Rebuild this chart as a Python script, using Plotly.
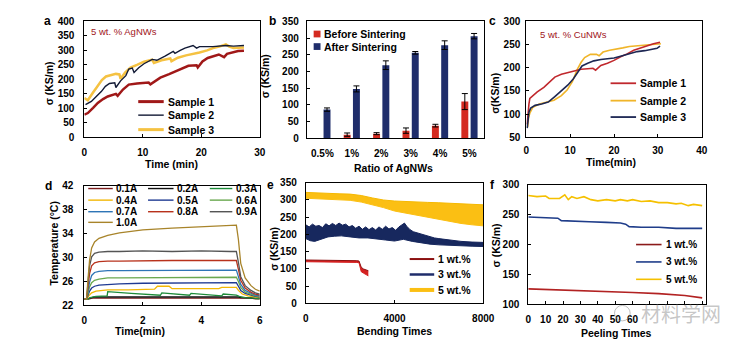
import plotly.graph_objects as go

W, H = 749, 351
FONT = "Liberation Sans, Arial, sans-serif"


def px(x):
    return x / W


def py(y):
    return 1 - y / H


# ---------------- Panel a : 5 wt.% AgNWs, sigma vs time ----------------
a_s1_t = [0, 0.6, 1.5, 2.3, 3.2, 4.0, 5.4, 5.7, 6.6, 7.6, 9.0, 10.2, 11.0, 11.3, 13.0, 14.5, 15.8, 17.8, 19.2, 19.4, 20.2, 21.1, 23.0, 23.9, 24.4, 25.3, 26.3, 27.3]
a_s1_v = [78, 84, 102, 119, 132, 141, 150, 143, 165, 182, 186, 188, 189, 183, 206, 218, 230, 247, 249, 241, 262, 274, 286, 277, 288, 293, 298, 299]
a_s2_t = [0.2, 0.6, 1.2, 2.0, 2.9, 3.6, 4.3, 5.2, 5.4, 6.2, 7.1, 7.6, 8.2, 8.5, 9.3, 10.2, 11.0, 11.6, 12.4, 13.8, 15.2, 15.5, 16.4, 17.2, 18.6, 19.2, 19.7, 21.0, 22.0, 24.2, 25.5, 27.3]
a_s2_v = [113, 117, 124, 140, 158, 176, 186, 188, 172, 195, 213, 236, 239, 224, 240, 254, 262, 269, 266, 280, 297, 290, 300, 308, 317, 308, 313, 312, 313, 317, 315, 317]
a_s3_t = [0, 0.3, 0.6, 1.4, 2.3, 3.0, 3.7, 4.6, 5.4, 6.0, 6.2, 7.0, 7.9, 9.0, 10.2, 11.6, 11.9, 13.2, 14.7, 14.9, 16.0, 17.4, 18.6, 19.7, 21.0, 22.0, 23.2, 24.2, 24.8, 25.5, 27.3]
a_s3_v = [136, 133, 128, 152, 180, 198, 210, 215, 219, 217, 202, 224, 241, 250, 261, 268, 257, 266, 272, 263, 275, 283, 287, 293, 300, 308, 314, 321, 313, 308, 310]

# ---------------- Panel b : bars ----------------
b_cats = ["0.5%", "1%", "2%", "3%", "4%", "5%"]
b_before = [None, 11, 14, 23, 38, 110]
b_before_err = [None, 5, 3, 8, 4, 24]
b_after = [86, 148, 219, 256, 279, 306]
b_after_err = [5, 9, 13, 4, 13, 8]

# ---------------- Panel c : 5 wt.% CuNWs ----------------
c_s1_t = [0.2, 0.4, 0.6, 0.8, 1.5, 2.5, 4.0, 5.5, 6.5, 8.0, 9.5, 10.8, 12.5, 14.0, 15.2, 15.8, 17.0, 18.5, 20.0, 21.5, 23.0, 24.5, 26.0, 27.5, 29.0, 30.5]
c_s1_v = [78, 105, 122, 134, 140, 148, 158, 170, 180, 186, 190, 194, 197, 198, 199, 195, 205, 210, 216, 224, 230, 238, 243, 248, 252, 255]
c_s2_t = [0.3, 0.5, 0.8, 1.5, 3.0, 5.0, 6.3, 8.0, 9.3, 10.5, 11.6, 12.5, 13.3, 14.6, 16.0, 16.6, 17.5, 19.0, 20.5, 22.0, 23.5, 25.0, 27.0, 29.0, 30.7]
c_s2_v = [72, 92, 102, 115, 122, 126, 130, 140, 152, 170, 196, 212, 222, 229, 229, 226, 234, 238, 240, 243, 246, 247, 249, 251, 252]
c_s3_t = [0.2, 0.4, 0.6, 1.0, 2.0, 3.5, 5.0, 6.5, 8.0, 9.5, 10.7, 11.8, 12.7, 14.0, 15.4, 17.0, 18.5, 20.0, 21.5, 23.0, 25.3, 27.0, 28.8, 29.8, 30.5]
c_s3_v = [70, 92, 104, 113, 119, 122, 126, 138, 150, 163, 176, 192, 204, 210, 215, 218, 220, 221, 225, 229, 235, 237, 240, 242, 247]

# ---------------- Panel d : temperature vs time ----------------
d_t = [0, 0.08, 0.12, 0.18, 0.25, 0.35, 0.5, 0.8, 1.2, 2.0, 3.0, 4.0, 5.0, 5.2, 5.27, 5.35, 5.5, 5.7, 5.85, 6.0]
d_labels = ["0.1A", "0.2A", "0.3A", "0.4A", "0.5A", "0.6A", "0.7A", "0.8A", "0.9A", "1.0A"]
d_colors = ["#7b1c1c", "#111111", "#1e8c3a", "#f2b705", "#1f3a93", "#6aa84f", "#2e75b6", "#b8321c", "#555555", "#a8842a"]
d_01 = [23.0, 23.0, 23.1, 23.1, 23.2, 23.2, 23.2, 23.3, 23.2, 23.3, 23.2, 23.3, 23.2, 23.2, 23.2, 23.2, 23.2, 23.2, 23.1, 23.1]
d_02 = [23.0, 23.0, 23.1, 23.2, 23.3, 23.4, 23.4, 23.4, 23.4, 23.5, 23.4, 23.5, 23.4, 23.4, 23.4, 23.3, 23.3, 23.3, 23.2, 23.2]
d_03_t = [0, 0.1, 0.2, 0.4, 0.78, 0.8, 1.6, 2.6, 2.65, 3.6, 3.65, 4.7, 4.75, 5.2, 5.3, 5.5, 5.8, 6.0]
d_03 = [23.0, 23.0, 23.3, 23.5, 23.6, 24.3, 24.0, 23.7, 24.1, 23.7, 24.0, 23.6, 23.9, 23.7, 23.5, 23.3, 23.2, 23.1]
d_04_t = [0, 0.08, 0.15, 0.25, 0.4, 0.8, 1.5, 2.4, 2.5, 2.9, 3.0, 4.0, 4.6, 4.7, 5.2, 5.27, 5.4, 5.6, 5.8, 6.0]
d_04 = [23.0, 23.0, 23.6, 24.1, 24.4, 24.6, 24.6, 24.7, 25.2, 25.2, 24.8, 24.8, 24.8, 25.0, 25.0, 24.5, 23.9, 23.6, 23.4, 23.3]
d_05 = [23.0, 23.1, 23.6, 24.4, 24.9, 25.2, 25.4, 25.5, 25.6, 25.7, 25.7, 25.8, 25.8, 25.8, 25.2, 24.5, 24.0, 23.7, 23.5, 23.4]
d_06 = [23.0, 23.1, 23.9, 25.1, 25.8, 26.2, 26.4, 26.6, 26.6, 26.6, 26.6, 26.7, 26.7, 26.7, 26.0, 25.0, 24.2, 23.8, 23.6, 23.5]
d_07 = [23.0, 23.2, 24.3, 25.9, 27.0, 27.5, 27.7, 27.8, 27.8, 27.8, 27.9, 27.9, 27.9, 27.9, 26.8, 25.5, 24.5, 24.0, 23.7, 23.6]
d_08 = [23.0, 23.2, 24.9, 27.3, 28.6, 29.1, 29.3, 29.4, 29.4, 29.5, 29.5, 29.5, 29.5, 29.5, 28.0, 26.2, 24.9, 24.2, 23.9, 23.7]
d_09 = [23.0, 23.2, 25.6, 28.6, 30.1, 30.7, 30.9, 31.0, 31.0, 31.1, 31.0, 31.1, 31.0, 31.0, 29.2, 26.8, 25.3, 24.5, 24.1, 23.9]
d_10 = [23.0, 23.2, 26.1, 29.6, 31.6, 32.6, 33.2, 33.7, 34.1, 34.6, 34.9, 35.1, 35.3, 35.4, 33.0, 29.0, 26.6, 25.3, 24.7, 24.4]

# ---------------- Panel e : bending ----------------
e_gold_x = [0, 500, 1000, 1500, 2000, 2500, 3000, 3500, 4000, 4500, 5000, 5500, 6000, 6500, 7000, 7500, 8000]
e_gold_hi = [322, 320, 319, 318, 317, 313, 306, 300, 297, 295, 294, 293, 292, 291, 290, 288, 286]
e_gold_lo = [305, 304, 303, 302, 299, 294, 287, 278, 268, 262, 255, 248, 242, 236, 232, 228, 225]
e_navy_hi_x = [0, 150, 300, 450, 600, 750, 900, 1050, 1200, 1350, 1500, 1650, 1800, 1950, 2100, 2250, 2400, 2550, 2700, 2850, 3000, 3150, 3300, 3450, 3600, 3750, 3900, 4050, 4200, 4350, 4450, 4550, 4700, 4850, 5000, 5200, 5400, 5600, 5800, 6000, 6300, 6600, 7000, 7500, 8000]
e_navy_hi = [228, 222, 230, 224, 226, 220, 231, 225, 232, 226, 233, 227, 230, 222, 226, 218, 224, 215, 222, 214, 220, 213, 222, 215, 224, 216, 220, 212, 222, 230, 233, 224, 214, 208, 205, 200, 196, 193, 190, 188, 185, 182, 180, 178, 177]
e_navy_lo_x = [0, 200, 400, 600, 800, 1000, 1300, 1600, 2000, 2400, 2800, 3200, 3600, 4000, 4400, 4800, 5200, 5600, 6000, 6500, 7000, 7500, 8000]
e_navy_lo = [188, 182, 180, 185, 190, 193, 195, 196, 193, 190, 190, 188, 184, 181, 186, 180, 175, 172, 170, 168, 167, 166, 165]
e_red_x = [0, 500, 1000, 1500, 2000, 2300, 2400, 2450, 2500, 2600, 2700, 2820]
e_red_hi = [126, 126, 125, 125, 125, 124, 123, 112, 105, 100, 97, 95]
e_red_lo = [121, 121, 120, 120, 120, 119, 118, 100, 92, 88, 84, 80]

# ---------------- Panel f : peeling ----------------
f_gold_x = [0, 5, 10, 12, 18, 21, 23, 25, 28, 32, 36, 40, 45, 50, 53, 57, 60, 65, 70, 75, 80, 85, 88, 92, 95, 100]
f_gold_y = [282, 280, 281, 277, 277, 283, 275, 280, 277, 280, 275, 273, 275, 273, 275, 273, 275, 272, 273, 270, 270, 268, 269, 265, 267, 265]
f_navy_x = [0, 10, 17, 19, 25, 35, 45, 53, 56, 58, 65, 75, 85, 100]
f_navy_y = [246, 245, 244, 240, 239, 238, 237, 236, 234, 230, 229, 229, 227, 227]
f_red_x = [0, 20, 40, 60, 75, 90, 100]
f_red_y = [126, 124, 123, 120, 118, 115, 111]

fig = go.Figure()

# panel a
for t, v, c, w in [(a_s3_t, a_s3_v, "#f5c242", 2.5), (a_s1_t, a_s1_v, "#a01818", 2.5), (a_s2_t, a_s2_v, "#121a35", 1.4)]:
    fig.add_trace(go.Scatter(x=t, y=v, mode="lines", line=dict(color=c, width=w), xaxis="x", yaxis="y", showlegend=False))

# panel b
fig.add_trace(go.Bar(x=b_cats, y=b_before, marker=dict(color="#d42a20", line=dict(width=0)),
                     error_y=dict(type="data", array=b_before_err, color="black", thickness=1, width=3),
                     xaxis="x2", yaxis="y2", showlegend=False))
fig.add_trace(go.Bar(x=b_cats, y=b_after, marker=dict(color="#1f2d6b", line=dict(width=0)),
                     error_y=dict(type="data", array=b_after_err, color="black", thickness=1, width=3),
                     xaxis="x2", yaxis="y2", showlegend=False))

# panel c
for t, v, c in [(c_s2_t, c_s2_v, "#f0b52a"), (c_s1_t, c_s1_v, "#c0282d"), (c_s3_t, c_s3_v, "#1d2753")]:
    fig.add_trace(go.Scatter(x=t, y=v, mode="lines", line=dict(color=c, width=1.6), xaxis="x3", yaxis="y3", showlegend=False))

# panel d
d_series = [(d_t, d_01), (d_t, d_02), (d_03_t, d_03), (d_04_t, d_04), (d_t, d_05), (d_t, d_06), (d_t, d_07), (d_t, d_08), (d_t, d_09), (d_t, d_10)]
for (t, v), c in zip(d_series, d_colors):
    fig.add_trace(go.Scatter(x=t, y=v, mode="lines", line=dict(color=c, width=1.3), xaxis="x4", yaxis="y4", showlegend=False))

# panel e (bands)
for xs_hi, hi, xs_lo, lo, edge, fillc in [
    (e_gold_x, e_gold_hi, e_gold_x, e_gold_lo, "#f5b800", "#fbbf13"),
    (e_navy_hi_x, e_navy_hi, e_navy_lo_x, e_navy_lo, "#14235a", "#17285e"),
    (e_red_x, e_red_hi, e_red_x, e_red_lo, "#8b1010", "#d42020"),
]:
    fig.add_trace(go.Scatter(x=xs_hi, y=hi, mode="lines", line=dict(color=edge, width=1), xaxis="x5", yaxis="y5", showlegend=False))
    fig.add_trace(go.Scatter(x=xs_lo, y=lo, mode="lines", line=dict(color=fillc, width=1), fill="tonexty", fillcolor=fillc,
                             xaxis="x5", yaxis="y5", showlegend=False))

# panel f
for t, v, c in [(f_gold_x, f_gold_y, "#f5c000"), (f_navy_x, f_navy_y, "#1f3d8a"), (f_red_x, f_red_y, "#b22222")]:
    fig.add_trace(go.Scatter(x=t, y=v, mode="lines", line=dict(color=c, width=1.6), xaxis="x6", yaxis="y6", showlegend=False))


def ax(standoff=6, **kw):
    d = dict(showline=True, mirror=True, linecolor="black", linewidth=1, ticks="inside", ticklen=3,
             tickcolor="black", showgrid=False, zeroline=False, ticklabelstandoff=standoff,
             tickfont=dict(family=FONT, size=10, color="black", weight="bold"))
    d.update(kw)
    return d


fig.update_layout(
    width=W, height=H, margin=dict(l=0, r=0, t=0, b=0), paper_bgcolor="white", plot_bgcolor="white",
    showlegend=False, barmode="group", bargap=0.37, bargroupgap=0.25,
    font=dict(family=FONT, color="black"),
    xaxis=ax(6, domain=[px(83), px(262)], range=[0, 30], dtick=10, anchor="y"),
    yaxis=ax(7, domain=[py(136), py(16)], range=[0, 400], dtick=50, anchor="x"),
    xaxis2=ax(6, domain=[px(310), px(491)], type="category", range=[-0.53, 5.5], ticks="", anchor="y2"),
    yaxis2=ax(5, domain=[py(137), py(16)], range=[0, 350], dtick=50, anchor="x2"),
    xaxis3=ax(4, domain=[px(534), px(713)], range=[0, 40], dtick=10, anchor="y3"),
    yaxis3=ax(3, domain=[py(136), py(16)], range=[50, 300], dtick=50, anchor="x3"),
    xaxis4=ax(6, domain=[px(83), px(262)], range=[0, 6], dtick=2, anchor="y4"),
    yaxis4=ax(8, domain=[py(310), py(186)], range=[22, 42], tick0=22, dtick=4, anchor="x4"),
    xaxis5=ax(6, domain=[px(309), px(490)], range=[0, 8000], dtick=4000, anchor="y5"),
    yaxis5=ax(6, domain=[py(308), py(183)], range=[0, 350], dtick=50, anchor="x5"),
    xaxis6=ax(6, domain=[px(536), px(717)], range=[0, 102], tickvals=list(range(0, 101, 10)),
              ticktext=["0", "10", "20", "30", "40", "50", "60", "", "", "", ""], anchor="y6"),
    yaxis6=ax(6, domain=[py(309), py(185)], range=[100, 300], dtick=50, anchor="x6"),
)

ann = []
shapes = []


def text(x, y, s, size=10.5, bold=True, color="black", anchor="center", angle=0, family=FONT):
    ann.append(dict(x=px(x), y=py(y), xref="paper", yref="paper", text=s, showarrow=False,
                    xanchor=anchor, yanchor="middle", textangle=angle,
                    font=dict(family=family, size=size, color=color, weight="bold" if bold else "normal")))


def key(x0, x1, y, color, width):
    shapes.append(dict(type="line", xref="paper", yref="paper", x0=px(x0), x1=px(x1), y0=py(y), y1=py(y),
                       line=dict(color=color, width=width)))


# panel letters
for x, y, s in [(45, 16, "a"), (275, 16, "b"), (499, 16, "c"), (46, 186, "d"), (273, 185, "e"), (499, 185, "f")]:
    text(x, y, s, size=12)

# axis titles
text(172, 164, "Time (min)")
text(398, 168, "Ratio of AgNWs")
text(620, 162, "Time(min)")
text(140, 337, "Time(min)")
text(400, 337, "Bending Times")
text(626, 339, "Peeling Times")
text(47, 80, "σ (KS/m)", angle=-90)
text(267, 73, "σ (KS/m)", angle=-90)
text(502, 90, "σ(KS/m)", angle=-90)
text(52, 245, "Temperature (°C)", angle=-90)
text(277, 251, "σ (KS/m)", angle=-90)
text(503, 248, "σ (KS/m)", angle=-90)

# inset notes
text(88, 26, "5 wt. % AgNWs", size=9.5, bold=False, color="#a0161b", anchor="left")
text(546, 30, "5 wt. % CuNWs", size=9.5, bold=False, color="#a0161b", anchor="left")

# legend a
for y, s, c, w in [(99, "Sample 1", "#a01818", 3), (113, "Sample 2", "#121a35", 1.4), (128, "Sample 3", "#f5c242", 3)]:
    key(138, 164, y, c, w)
    text(166, y, s, anchor="left")

# legend b
for y, s, c in [(29, "Before Sintering", "#d42a20"), (42, "After Sintering", "#1f2d6b")]:
    shapes.append(dict(type="rect", xref="paper", yref="paper", x0=px(317), x1=px(324), y0=py(y + 3.5), y1=py(y - 3.5),
                       fillcolor=c, line=dict(width=0)))
    text(326, y, s, anchor="left")

# legend c
for y, s, c in [(80, "Sample 1", "#c0282d"), (98, "Sample 2", "#f0b52a"), (115, "Sample 3", "#1d2753")]:
    key(620, 646, y, c, 1.8)
    text(648, y, s, anchor="left")

# legend d (3 columns)
cols = [(87, 112, 113), (148, 174, 176), (211, 234, 236)]
rows = [189, 201, 213, 224]
for i, (lab, c) in enumerate(zip(d_labels, d_colors)):
    r, ccol = divmod(i, 3)
    x0, x1, xt = cols[ccol]
    key(x0, x1, rows[r], c, 1.4)
    text(xt, rows[r], lab, size=10, anchor="left")

# legend e
for y, s, c, w in [(262, "1 wt.%", "#8b1010", 2), (278, "3 wt.%", "#1f2d6b", 2.5), (294, "5 wt.%", "#fbbf13", 4)]:
    key(415, 440, y, c, w)
    text(442, y, s, anchor="left")

# legend f
for y, s, c in [(247, "1 wt.%", "#8b1a1a"), (265, "3 wt.%", "#1f3d8a"), (283, "5 wt.%", "#f5c000")]:
    key(646, 672, y, c, 1.6)
    text(675, y, s, size=10, anchor="left")

# watermark
shapes.append(dict(type="circle", xref="paper", yref="paper", x0=px(624), x1=px(640), y0=py(326), y1=py(310),
                   line=dict(color="rgba(150,150,150,0.6)", width=1)))
text(692, 318, "材料学网", size=20, bold=False, color="rgba(150,150,150,0.55)", family="Noto Sans CJK SC")

fig.update_layout(annotations=ann, shapes=shapes)
fig.write_html("out.html")
